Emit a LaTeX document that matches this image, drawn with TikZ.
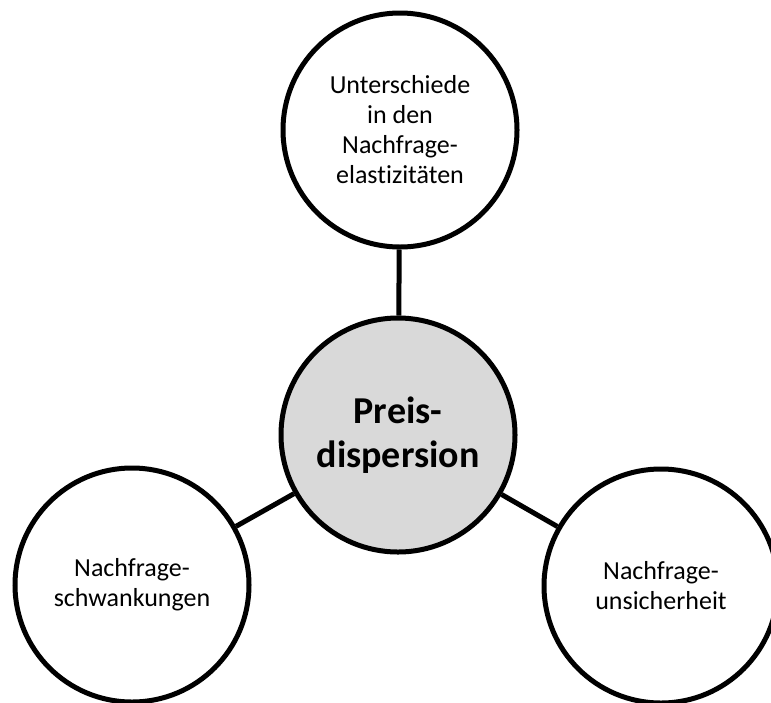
\documentclass[tikz,border=0pt]{standalone}
\usepackage{fontspec}
\setmainfont{Carlito}[Ligatures=NoCommon]
\begin{document}
\begin{tikzpicture}[x=1pt,y=-1pt,
  bubble/.style={circle,draw=black,line width=5pt,fill=white,minimum size=234pt,inner sep=0pt,align=center,font=\fontsize{26}{30}\selectfont},
  hub/.style={bubble,fill=gray!30,font=\fontsize{38}{44}\selectfont\bfseries},
  link/.style={line width=5pt}]
\useasboundingbox (0,0) rectangle (771,702);
\node[bubble] (top) at (400,130) {Unterschiede\\in den\\Nachfrage-\\elastizitäten};
\node[hub] (mid) at (398,435) {Preis-\\dispersion};
\node[bubble] (left) at (132,585) {Nachfrage-\\schwankungen};
\node[bubble] (right) at (661,586) {Nachfrage-\\unsicherheit};
\draw[link] (top) -- (mid);
\draw[link] (mid) -- (left);
\draw[link] (mid) -- (right);
\end{tikzpicture}
\end{document}
